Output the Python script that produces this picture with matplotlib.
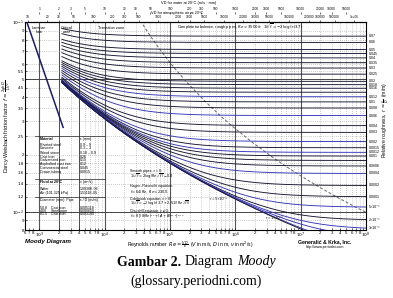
import numpy as np
import matplotlib.pyplot as plt
import matplotlib.ticker as mticker

plt.rcParams['font.family'] = ['Liberation Sans', 'DejaVu Sans']
plt.rcParams['mathtext.fontset'] = 'dejavusans'

# relative roughness r = eps/D of the curves (right-hand labels)
EPS = [0.07, 0.06, 0.05, 0.045, 0.04, 0.035, 0.03, 0.025, 0.02, 0.018, 0.016,
       0.014, 0.012, 0.01, 0.008, 0.006, 0.004, 0.003, 0.002, 0.0015, 0.0012,
       0.001, 0.0008, 0.0006, 0.0004, 0.0002, 1e-4, 5e-5, 2e-5, 1e-5, 5e-6, 1e-6, 0.0]
EPS_LABELS = ["0.07", "0.06", "0.05", "0.045", "0.04", "0.035", "0.03", "0.025",
              "0.02", "0.018", "0.016", "", "0.012", "0.01", "0.008", "0.006",
              "0.004", "0.003", "0.002", "0.0015", "0.0012", "0.001", "",
              "0.0006", "0.0004", "0.0002", "0.0001", "5×10⁻⁵", "2×10⁻⁵", "1×10⁻⁵",
              "", "", ""]
BLUE_EPS = [0.012, 0.006, 0.002, 0.0012, 0.0004, 5e-5, 1e-5, 5e-6, 1e-6]

RE_LAMINAR = (600, 2300)      # Hagen-Poiseuille line
RE_TURB = (2200, 1e8)         # Colebrook curves
BOUND_EPS = [0.1, 0.07, 0.05, 0.04, 0.03, 0.02, 0.01, 0.006, 0.004, 0.002,
             0.001, 0.0006, 0.0004, 0.0002, 1e-4, 5e-5, 2e-5]

YT = [0.1, 0.09, 0.08, 0.07, 0.06, 0.055, 0.05, 0.045, 0.04, 0.035, 0.03, 0.025,
      0.02, 0.018, 0.016, 0.014, 0.012, 0.01, 0.009, 0.008]
YT_LABELS = ["$10^{-1}$", "9", "8", "7", "6", "5.5", "5", "4.5", "4", "3.5", "3",
             "2.5", "2", "1.8", "1.6", "1.4", "1.2", "$10^{-2}$", "9", "8"]

NU_WATER = 1.004e-6
NU_AIR = 1.51e-5
TOP_SUBS = (1, 2, 3, 5)

TABLE = [("Material", "ε (mm)"), ("Riveted steel", "0.9 – 9"), ("Concrete", "0.3 – 3"),
         ("Wood stave", "0.18 – 0.9"), ("Cast iron", "0.26"), ("Galvanized iron", "0.15"),
         ("Asphalted cast iron", "0.12"), ("Commercial steel", "0.045"),
         ("Drawn tubing", "0.0015"), ("Fluid at 20°C", "ν (m²/s)"),
         ("Water", "1.0038E-06"), ("Air (101.325 kPa)", "1.5111E-05"),
         ("Diameter (mm)  Pipe", "ε / D (m/m)"), ("50.8    Cast iron", "0.005118"),
         ("400     Steel pipe", "0.000650"), ("81.5    Cast iron", "0.003190")]
TABLE_Y = [0.4375, 0.409, 0.394, 0.372, 0.353, 0.337, 0.318, 0.298, 0.279,
           0.231, 0.197, 0.178, 0.144, 0.106, 0.091, 0.076]


def colebrook(re, r):
    x = np.full_like(re, 8.0)
    for _ in range(60):
        x = -2.0 * np.log10(r / 3.7 + 2.51 * x / re)
    return 1.0 / x ** 2


fig = plt.figure(figsize=(3.93, 2.98), dpi=100)
ax = fig.add_axes([25 / 393, 1 - 230 / 298, 341 / 393, 208 / 298])
ax.set_xscale('log')
ax.set_yscale('log')
ax.set_xlim(600, 1e8)
ax.set_ylim(0.008, 0.1)

# grid
XT = [600, 700, 800] + [m * 10 ** d for d in range(3, 8) for m in range(1, 10)] + [1e8]
for xv in XT[3:-1]:
    if np.isclose(np.log10(xv) % 1, 0):
        ax.axvline(xv, color='#555555', lw=0.8, zorder=1)
    else:
        ax.axvline(xv, color='#999999', lw=0.5, ls=(0, (1, 2)), zorder=1)
for xv in (2000, 4000):
    ax.axvline(xv, color='#333333', lw=0.6, zorder=1)
for yv in YT[1:-1]:
    if yv in (0.05, 0.01):
        ax.axhline(yv, color='#444444', lw=0.7, zorder=1)
    else:
        ax.axhline(yv, color='#999999', lw=0.5, ls=(0, (1, 2)), zorder=1)

# curves
re = np.geomspace(RE_TURB[0], RE_TURB[1], 500)
for r, lab in zip(EPS, EPS_LABELS):
    col = '#3535b8' if r in BLUE_EPS else '#151530'
    f = colebrook(re, r)
    ax.plot(re, f, color=col, lw=0.65, zorder=3)
    if lab:
        ax.text(1.008, f[-1], lab, transform=ax.get_yaxis_transform(),
                fontsize=2.6, va='center', ha='left')

re_l = np.geomspace(RE_LAMINAR[0], RE_LAMINAR[1], 30)
ax.plot(re_l, 64 / re_l, color='#1b1b6b', lw=1.1, zorder=3)

be = np.array(BOUND_EPS)
ax.plot(3500 / be, (-2 * np.log10(be / 3.7)) ** -2, color='#666666', lw=0.7,
        ls=(0, (3, 2)), zorder=2)

# ticks
ax.yaxis.set_major_locator(mticker.FixedLocator(YT))
ax.yaxis.set_major_formatter(mticker.FixedFormatter(YT_LABELS))
ax.yaxis.set_minor_locator(mticker.NullLocator())


def xlab(v):
    e = np.log10(v)
    if np.isclose(e % 1, 0):
        return "$10^{%d}$" % round(e)
    m = v / 10 ** np.floor(e)
    return "" if round(m) == 9 else "%d" % round(m)


ax.xaxis.set_major_locator(mticker.FixedLocator(XT))
ax.xaxis.set_major_formatter(mticker.FixedFormatter([xlab(v) for v in XT]))
ax.xaxis.set_minor_locator(mticker.NullLocator())
ax.tick_params(axis='both', labelsize=3.2, length=1.5, width=0.4, pad=0.6,
               direction='in')
for s in ax.spines.values():
    s.set_linewidth(0.8)

# top scales: VD for water and air
for k, loc, title, ty, tx in [(NU_WATER * 1000, 1.05, "VD for water at 20°C (m/s · mm)", 1.092, 0.48),
                              (NU_AIR * 1000, 1.0, "VD for atmospheric air at 20°C", 1.044, 0.445)]:
    lo, hi = 600 * k, 1e8 * k
    ticks = [s * 10.0 ** d for d in range(-1, 7) for s in TOP_SUBS
             if lo * 1.05 < s * 10.0 ** d < hi * 0.95]
    sec = ax.secondary_xaxis(loc, functions=(lambda x, k=k: x * k, lambda x, k=k: x / k))
    sec.xaxis.set_major_locator(mticker.FixedLocator(ticks))
    sec.xaxis.set_minor_locator(mticker.NullLocator())
    sec.xaxis.set_major_formatter(mticker.FuncFormatter(lambda v, p: "%g" % v))
    sec.tick_params(labelsize=2.3, length=1.5, width=0.4, pad=0.5,
                    direction='in' if loc > 1 else 'out')
    if loc > 1:
        sec.spines['top'].set_visible(False)
    ax.text(tx, ty, title, transform=ax.transAxes, fontsize=2.8, ha='center', va='center')

# zone labels
ax.text(0.041, 0.962, "Laminar\nflow", transform=ax.transAxes, fontsize=2.8,
        ha='center', va='center', linespacing=1.0)
ax.text(0.123, 0.962, "Critical\nzone", transform=ax.transAxes, fontsize=2.8,
        ha='center', va='center', linespacing=1.0)
ax.text(0.252, 0.972, "Transition zone", transform=ax.transAxes, fontsize=2.8,
        ha='center', va='center')
ax.text(0.63, 0.972, r"Complete turbulence, rough pipes, $Re > 3500/r$:  "
        r"$1/\sqrt{f} = -2\,\log\,(r/3.7)$", transform=ax.transAxes,
        fontsize=2.8, ha='center', va='center')

# material table
for (a, b), yy in zip(TABLE, TABLE_Y):
    bold = a in ("Material", "Fluid at 20°C")
    ax.text(0.044, yy, a, transform=ax.transAxes, fontsize=2.6, va='center',
            fontweight='bold' if bold else 'normal')
    ax.text(0.16, yy, b, transform=ax.transAxes, fontsize=2.6, va='center')
for yy in (0.452, 0.245, 0.158):
    ax.plot([0.03, 0.235], [yy, yy], transform=ax.transAxes, color='#222222', lw=0.5)

# equations
EQ = [(0.282, "Smooth pipes, ε = 0:"),
      (0.255, r"$1/\sqrt{f} = 2\,\log(Re\,\sqrt{f}) - 0.8$"),
      (0.210, "Hagen–Poiseuille equation:"),
      (0.186, r"$f = 64/Re$,  $Re < 2300$"),
      (0.148, "Colebrook equation, ε > 0:"),
      (0.124, r"$1/\sqrt{f} = -2\,\log(r/3.7 + 2.51/(Re\,\sqrt{f}))$"),
      (0.090, "Churchill equation, ε ≥ 0:"),
      (0.066, r"$f = 8\,[(8/Re)^{12} + (A+B)^{-1.5}]^{1/12}$")]
for yy, s in EQ:
    ax.text(0.308, yy, s, transform=ax.transAxes, fontsize=2.5, va='center')

ax.text(4.1e5, 0.0116, "r = 5×10⁻⁶", fontsize=2.6, va='center', ha='left')
ax.text(2.9e6, 0.0092, "r = 1×10⁻⁶", fontsize=2.6, va='center', ha='left')

# outer labels
fig.text(7 / 393, 1 - 126 / 298, r"Darcy-Weisbach friction factor  $f = \frac{2ghD}{LV^2}$",
         rotation=90, fontsize=3.8, ha='center', va='center')
fig.text(386 / 393, 1 - 120 / 298, r"Relative roughness,  $r = \frac{\varepsilon}{D}$  (m/m)",
         rotation=90, fontsize=3.6, ha='center', va='center')
fig.text(25 / 393, 1 - 241.5 / 298, "Moody Diagram", fontsize=4.4, fontweight='bold',
         style='italic', ha='left', va='center')
fig.text(190 / 393, 1 - 244.5 / 298,
         r"Reynolds number  $Re = \frac{VD}{\nu}$  ($V$ in m/s, $D$ in m, $\nu$ in m$^2$/s)",
         fontsize=3.6, ha='center', va='center')
fig.text(325 / 393, 1 - 241.5 / 298, "Generalić & Krka, Inc.", fontsize=3.7,
         fontweight='bold', ha='center', va='center')
fig.text(325 / 393, 1 - 247 / 298, "http://www.periodni.com", fontsize=2.6,
         ha='center', va='center')

# caption
serif = ['Liberation Serif', 'DejaVu Serif']
cap_y = 1 - 262 / 298
cap_fs = 10
t1 = fig.text(0, cap_y, "Gambar 2.", family=serif, fontweight='bold', fontsize=cap_fs, va='center')
t2 = fig.text(0, cap_y, "Diagram", family=serif, fontsize=cap_fs, va='center')
t3 = fig.text(0, cap_y, "Moody", family=serif, style='italic', fontsize=cap_fs, va='center')
fig.text(0.5, 1 - 281 / 298, "(glossary.periodni.com)", family=serif, fontsize=cap_fs,
         ha='center', va='center')
rend = fig.canvas.get_renderer()
gap = 0.25 * cap_fs * 100 / 72
ws = [t.get_window_extent(rend).width for t in (t1, t2, t3)]
x0 = (393 - (sum(ws) + 2 * gap)) / 2
for t, w in zip((t1, t2, t3), ws):
    t.set_x(x0 / 393)
    x0 += w + gap

fig.savefig("out.png", dpi=100)
